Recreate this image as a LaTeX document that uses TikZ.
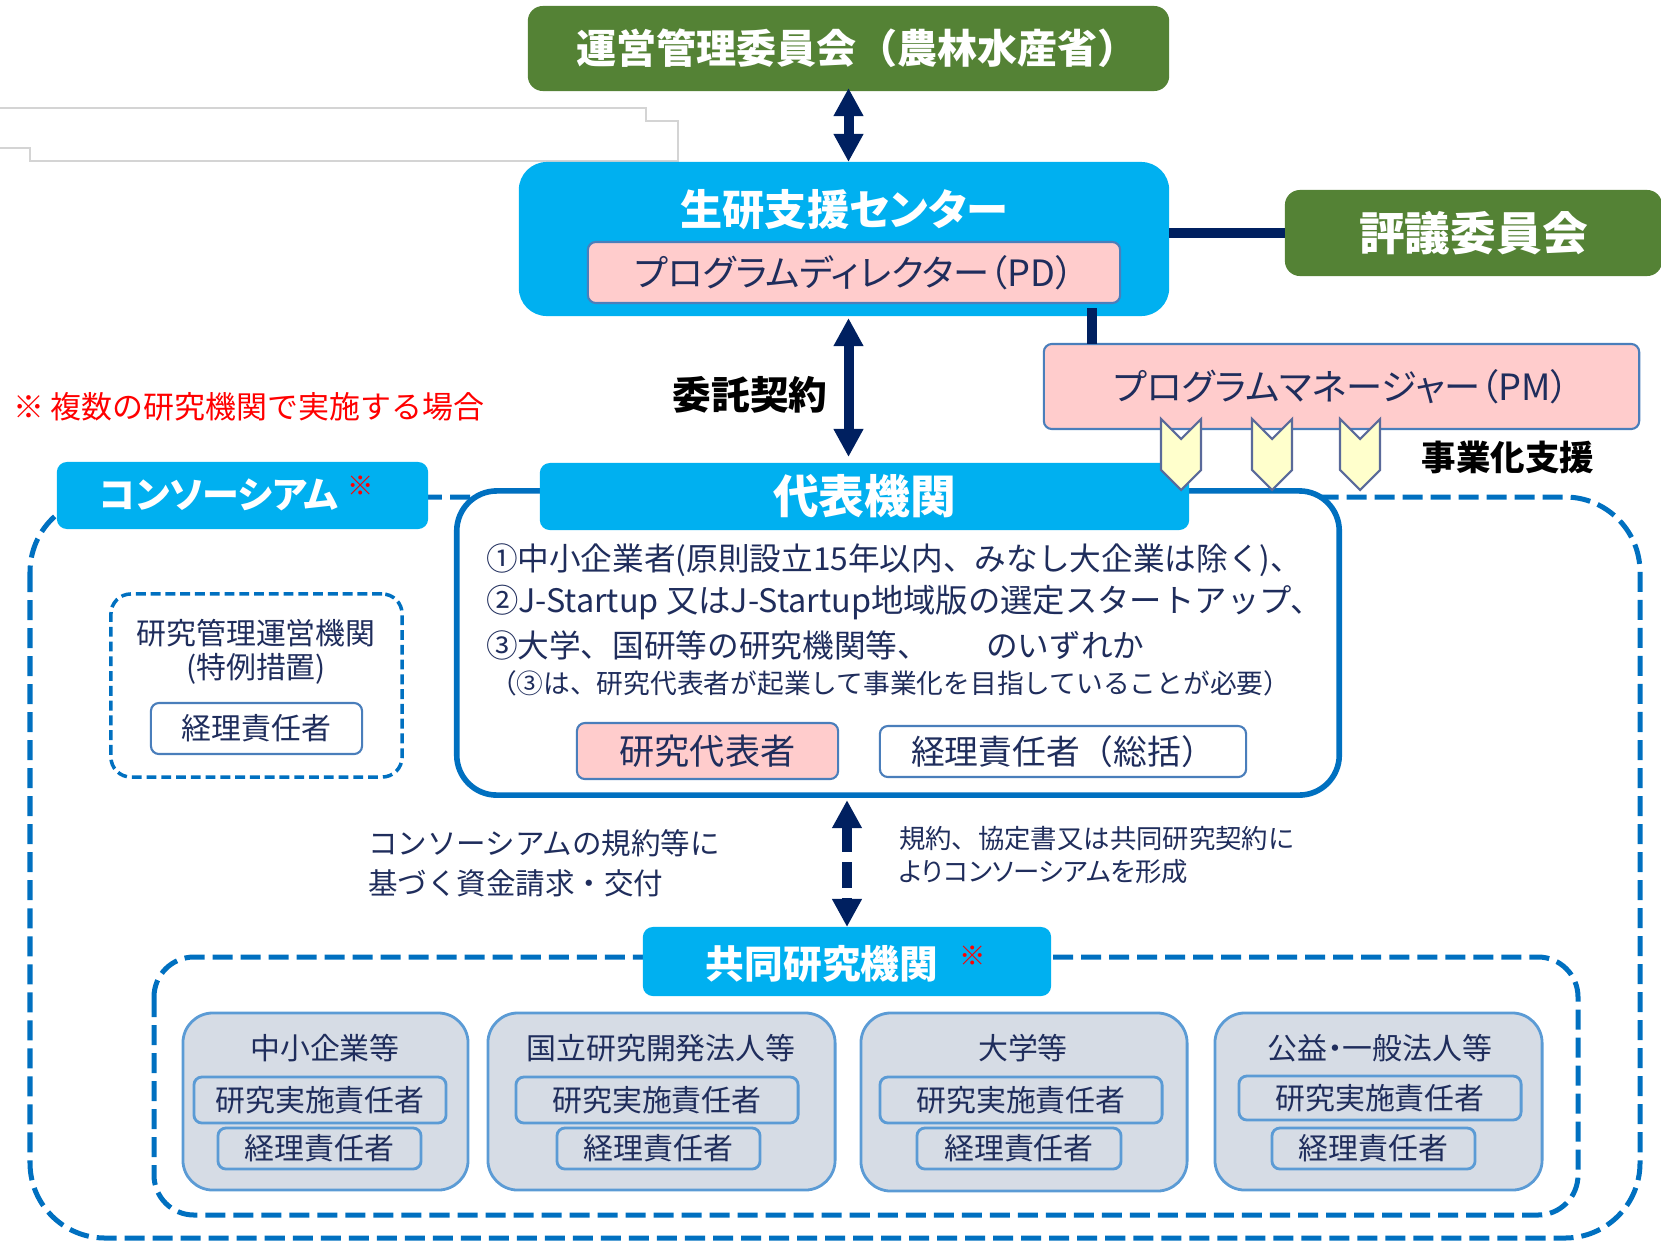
\documentclass[tikz,border=0pt]{standalone}
\usepackage{fontspec}
\setmainfont{Noto Sans CJK JP}[RawFeature=+palt]
\newfontfamily\fw{Noto Sans CJK JP}
\usetikzlibrary{arrows.meta}
\definecolor{grn}{HTML}{548235}
\definecolor{cyn}{HTML}{00B0F0}
\definecolor{nvy}{HTML}{002060}
\definecolor{blu}{HTML}{0070C0}
\definecolor{pnk}{HTML}{FFCCCC}
\definecolor{pnkb}{HTML}{4A7EBB}
\definecolor{txt}{HTML}{1F2D5C}
\definecolor{gfill}{HTML}{D6DCE5}
\definecolor{gbord}{HTML}{5B9BD5}
\definecolor{chf}{HTML}{FFFFCC}
\definecolor{chb}{HTML}{5A6A9A}
\definecolor{faint}{HTML}{D4D4D4}
\newcommand{\fs}[1]{\fontsize{#1}{#1}\selectfont}
\begin{document}
\begin{tikzpicture}[x=0.01cm,y=-0.01cm,
  boxbase/.style={rectangle, inner sep=0pt, outer sep=0pt},
  greenbox/.style={boxbase, fill=grn, rounded corners=0.15cm, text=white, font=\bfseries\fs{11pt}},
  cyanbox/.style={boxbase, fill=cyn, rounded corners=0.1cm, text=white, font=\bfseries\fs{13pt}},
  pinkbox/.style={boxbase, fill=pnk, draw=pnkb, line width=0.6pt, rounded corners=0.08cm, text=txt, font=\fs{10.3pt}},
  whitebox/.style={boxbase, fill=white, draw=pnkb, line width=0.6pt, rounded corners=0.08cm, text=txt, font=\fs{10pt}},
  graybox/.style={boxbase, fill=gfill, draw=gbord, line width=0.8pt, rounded corners=0.3cm},
  innerbox/.style={boxbase, fill=gfill, draw=gbord, line width=0.8pt, rounded corners=0.08cm, text=txt, font=\fs{8.5pt}},
  plain/.style={inner sep=0pt, outer sep=0pt, text=txt},
  redmark/.style={inner sep=0pt, text=red, font=\bfseries\fs{7.5pt}},
  bigdash/.style={draw=blu, line width=0.05cm, dash pattern=on 0.2cm off 0.08cm},
  navyline/.style={draw=nvy, line width=0.1cm},
  dblarrow/.style={draw=nvy, line width=0.1cm, {Triangle[width=0.28cm,length=0.28cm]}-{Triangle[width=0.28cm,length=0.28cm]}},
  chev/.style={fill=chf, draw=chb, line width=0.6pt, line join=miter}
]
\useasboundingbox (0,0) rectangle (1661,1242);

% faint outline top-left
\draw[faint, line width=0.6pt] (0,108) -- (646,108) -- (646,121) -- (678,121) -- (678,161) -- (30,161) -- (30,148) -- (0,148);

% top committee
\node[greenbox, minimum width=6.41cm, minimum height=0.85cm] (top) at (848.5,48.5) {};
\node[plain, text=white, font=\bfseries\fw\fs{11.4pt}] (topt) at (857,48) {運営管理委員会（農林水産省）};

% seiken center
\node[boxbase, fill=cyn, rounded corners=0.28cm, minimum width=6.50cm, minimum height=1.54cm] (seiken) at (844,239) {};
\node[plain, text=white, font=\bfseries\fs{12pt}] (seikent) at (844,210) {生研支援センター};
\node[pinkbox, minimum width=5.32cm, minimum height=0.61cm] (pd) at (854,272.5) {プログラムディレクター（PD）};

% hyogi
\node[greenbox, font=\bfseries\fs{13pt}, minimum width=3.77cm, minimum height=0.86cm] (hyogi) at (1473.5,233) {評議委員会};

% PM
\node[pinkbox, minimum width=5.95cm, minimum height=0.85cm] (pm) at (1341.5,386.5) {プログラムマネージャー（PM）};
\coordinate (pmlink) at (1092,344);

% labels
\node[plain, text=black, font=\bfseries\fs{11pt}] (itaku) at (750,395) {委託契約};
\node[plain, text=black, font=\bfseries\fs{9.8pt}] (jigyo) at (1508,457) {事業化支援};
\node[plain, anchor=west, text=red, font=\fw\fs{8.8pt}] (note) at (13,407) {※ 複数の研究機関で実施する場合};

% consortium outer
\draw[bigdash, rounded corners=0.75cm] (30,497) rectangle (1640,1238);

% daihyo box
\node[boxbase, fill=white, draw=blu, line width=1.6pt, rounded corners=0.4cm, minimum width=8.82cm, minimum height=3.04cm] (daihyo) at (898,643) {};

% tabs
\node[cyanbox, minimum width=3.71cm, minimum height=0.67cm] (ctab) at (242.5,495.5) {};
\node[plain, text=white, font=\bfseries\fs{10.5pt}] (ctabt) at (219,495) {コンソーシアム};
\node[redmark] (cmark) at (361,486) {※};
\node[cyanbox, minimum width=6.49cm, minimum height=0.67cm] (dtab) at (864.5,496.5) {代表機関};

% daihyo text
\node[plain, anchor=west, font=\fw\fs{9pt}] (l1) at (486,560) {①中小企業者(原則設立15年以内、みなし大企業は除く)、};
\node[plain, anchor=west, font=\fw\fs{9.2pt}] (l2) at (486,603) {②J-Startup 又はJ-Startup地域版の選定スタートアップ、};
\node[plain, anchor=west, font=\fw\fs{9pt}] (l3) at (486,645) {③大学、国研等の研究機関等、\hspace{1.8em}のいずれか};
\node[plain, anchor=west, font=\fw\fs{7.6pt}] (l4) at (490,683) {（③は、研究代表者が起業して事業化を目指していることが必要）};
\node[pinkbox, font=\fs{10pt}, minimum width=2.61cm, minimum height=0.56cm] (rep) at (707.5,751) {研究代表者};
\node[whitebox, font=\fw\fs{9.6pt}, minimum width=3.66cm, minimum height=0.51cm] (keiri0) at (1063,751.5) {経理責任者（総括）};

% kenkyu kanri
\node[boxbase, draw=blu, line width=1pt, dash pattern=on 2.8pt off 1.4pt, rounded corners=0.2cm, minimum width=2.91cm, minimum height=1.83cm] (kanri) at (256.5,685.5) {};
\node[plain, font=\fs{8.5pt}] (kanri1) at (256,633) {研究管理運営機関};
\node[plain, font=\fs{8.5pt}] (kanri2) at (256,669) {(特例措置)};
\node[whitebox, font=\fs{8.5pt}, minimum width=2.11cm, minimum height=0.51cm] (kanrik) at (256.5,728.5) {経理責任者};

% middle texts
\node[plain, anchor=west, font=\fw\fs{8.4pt}] (m1) at (368,843) {コンソーシアムの規約等に};
\node[plain, anchor=west, font=\fw\fs{8.4pt}] (m2) at (368,883) {基づく資金請求・交付};
\node[plain, anchor=west, font=\fw\fs{7.5pt}] (r1) at (899,838) {規約、協定書又は共同研究契約に};
\node[plain, anchor=west, font=\fs{7.5pt}] (r2) at (899,872) {よりコンソーシアムを形成};

% kyodo box
\draw[bigdash, rounded corners=0.4cm] (154,957) rectangle (1578,1215);
\node[cyanbox, minimum width=4.08cm, minimum height=0.69cm] (ktab) at (847,961.5) {};
\node[plain, text=white, font=\bfseries\fs{11pt}] (ktabt) at (822,964) {共同研究機関};
\node[redmark] (kmark) at (973,956) {※};

% four boxes
\node[graybox, minimum width=2.85cm, minimum height=1.77cm] (ga) at (325.5,1101.5) {};
\node[graybox, minimum width=3.47cm, minimum height=1.77cm] (gb) at (661.5,1101.5) {};
\node[graybox, minimum width=3.26cm, minimum height=1.78cm] (gc) at (1024,1102) {};
\node[graybox, minimum width=3.27cm, minimum height=1.77cm] (gd) at (1378.5,1101.5) {};
\node[plain, font=\fs{8.5pt}] (ta) at (325,1048) {中小企業等};
\node[plain, font=\fs{8.5pt}] (tb) at (661,1048) {国立研究開発法人等};
\node[plain, font=\fs{8.5pt}] (tc) at (1023,1048) {大学等};
\node[plain, font=\fs{8.5pt}] (td) at (1380,1048) {公益・一般法人等};
\node[innerbox, minimum width=2.52cm, minimum height=0.46cm] (ja) at (320,1100) {研究実施責任者};
\node[innerbox, minimum width=2.82cm, minimum height=0.46cm] (jb) at (657,1100) {研究実施責任者};
\node[innerbox, minimum width=2.82cm, minimum height=0.46cm] (jc) at (1021,1100) {研究実施責任者};
\node[innerbox, minimum width=2.82cm, minimum height=0.44cm] (jd) at (1380,1098) {研究実施責任者};
\node[innerbox, minimum width=2.03cm, minimum height=0.41cm] (ka) at (319.5,1148.5) {経理責任者};
\node[innerbox, minimum width=2.03cm, minimum height=0.41cm] (kb) at (658.5,1148.5) {経理責任者};
\node[innerbox, minimum width=2.04cm, minimum height=0.41cm] (kc) at (1019,1148.5) {経理責任者};
\node[innerbox, minimum width=2.03cm, minimum height=0.41cm] (kd) at (1373.5,1148.5) {経理責任者};

% chevrons
\foreach \cx in {1181,1272,1360}{
  \draw[chev] ({\cx-20},419) -- (\cx,439) -- ({\cx+20},419) -- ({\cx+20},470) -- (\cx,490) -- ({\cx-20},470) -- cycle;
}

% connectors
\draw[dblarrow, shorten <=-0.03cm] (top.south) -- (top.south |- seiken.north);
\draw[dblarrow, shorten <=0.02cm, shorten >=0.06cm] (top.south |- seiken.south) -- (top.south |- dtab.north);
\draw[navyline] (seiken.east |- hyogi.west) -- (hyogi.west);
\draw[navyline, shorten <=0.05cm] (pmlink |- pd.south) -- (pmlink);
\draw[dblarrow, dash pattern=on 0.26cm off 0.1cm, shorten <=0.05cm] (ktab.north |- daihyo.south) -- (ktab.north);
\end{tikzpicture}
\end{document}
